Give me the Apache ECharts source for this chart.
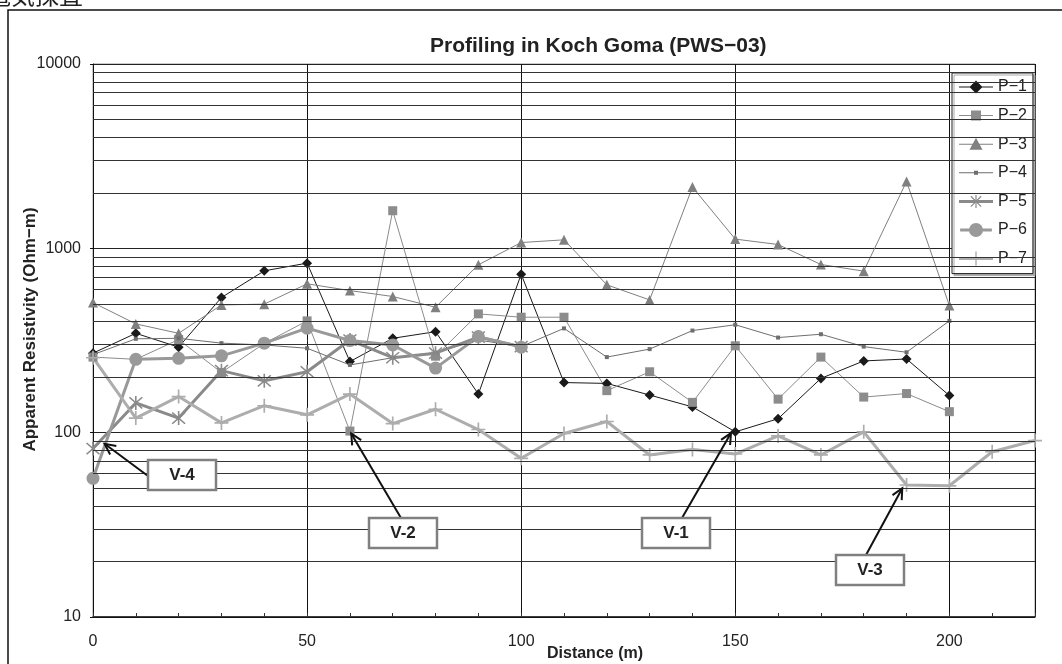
<!DOCTYPE html>
<html><head><meta charset="utf-8">
<script src="https://cdn.jsdelivr.net/npm/echarts@6/dist/echarts.min.js"></script>
<style>html,body{margin:0;padding:0;background:#fff}#c{width:1062px;height:664px}</style>
</head><body><div id="c"></div>
<script>
// ---- data ----
const distance = [0,10,20,30,40,50,60,70,80,90,100,110,120,130,140,150,160,170,180,190,200,210,220];
const seriesNames = ['P\u22121','P\u22122','P\u22123','P\u22124','P\u22125','P\u22126','P\u22127'];
const p1 = [270,346,291,541,755,831,243,325,353,162,724,187,185,160,138,101,119,197,245,251,159];
const p2 = [257,250,320,212,305,404,102,1600,260,441,423,423,169,214,146,296,152,257,156,163,130];
const p3 = [508,389,346,493,498,642,590,548,479,814,1075,1112,634,525,2149,1122,1049,817,752,2305,489];
const p4 = [265,323,325,306,299,287,233,255,272,318,293,368,257,284,358,385,328,342,293,273,404];
const p5 = [82,145,120,217,191,214,318,255,270,330,293];
const p6 = [56.5,250,253,261,306,369,316,299,224,332,291];
const p7 = [255,120,157,113,140,125,162,112,134,104,72.6,99,115,75.7,81,76.6,96,75.7,101,52,51.5,78.8,90.6];
const yTickLabels = [10,100,1000,10000];
const minorGridValues = [20,30,40,50,60,70,80,90,200,300,400,500,600,700,800,900,2000,3000,4000,5000,6000,7000,8000,9000];
const annotations = [
  {text:'V-4', tip:[2.7, 87]},
  {text:'V-2', tip:[60.3, 99]},
  {text:'V-1', tip:[149, 99.5]},
  {text:'V-3', tip:[189, 50]}
];
const titleText = 'Profiling in Koch Goma (PWS\u221203)';
const yName = 'Apparent Resistivity (Ohm\u2212m)';
const xName = 'Distance (m)';

// ---- styles ----
const FONT = "'Liberation Sans', Arial, sans-serif";
const asterisk = 'path://M-0.5,-5L0.5,-5L0.5,5L-0.5,5Z M-4.35,-3.65L-3.65,-4.35L4.35,3.65L3.65,4.35Z M3.65,-4.35L4.35,-3.65L-3.65,4.35L-4.35,3.65Z';
const plus = 'path://M-0.6,-5L0.6,-5L0.6,5L-0.6,5Z M-5,-0.6L5,-0.6L5,0.6L-5,0.6Z';
// legend icons: line + marker, with an invisible 34x14 bounding frame
const BB = 'M-17,-7L-17,-7Z M17,7L17,7Z ';
const THIN = 'M-17,-0.5L17,-0.5L17,0.5L-17,0.5Z ';
const THICK = 'M-17,-1.5L17,-1.5L17,1.5L-17,1.5Z ';
const legendIcons = [
  'path://' + BB + THIN + 'M0,-6.5L6.5,0L0,6.5L-6.5,0Z',
  'path://' + BB + THIN + 'M-5,-5L5,-5L5,5L-5,5Z',
  'path://' + BB + THIN + 'M0,-6.5L6.5,5.5L-6.5,5.5Z',
  'path://' + BB + THIN + 'M-2,-2L2,-2L2,2L-2,2Z',
  'path://' + BB + THICK + 'M-0.6,-6.5L0.6,-6.5L0.6,6.5L-0.6,6.5Z M-5.6,-4.75L-4.75,-5.6L5.6,4.75L4.75,5.6Z M4.75,-5.6L5.6,-4.75L-4.75,5.6L-5.6,4.75Z',
  'path://' + BB + THICK + 'M-7.5,0A7.5,7.5 0 1,1 7.5,0A7.5,7.5 0 1,1 -7.5,0Z',
  'path://' + BB + THICK + 'M-0.7,-7L0.7,-7L0.7,7L-0.7,7Z M-7,-0.7L7,-0.7L7,0.7L-7,0.7Z'
];
const styles = [
  {color:'#1a1a1a', width:1, symbol:'diamond', size:10},
  {color:'#8c8c8c', width:1, symbol:'rect', size:9},
  {color:'#808080', width:1, symbol:'triangle', size:10},
  {color:'#6e6e6e', width:1, symbol:'rect', size:4},
  {color:'#8a8a8a', width:3, symbol:asterisk, size:14},
  {color:'#999999', width:3, symbol:'circle', size:13},
  {color:'#adadad', width:3, symbol:plus, size:14}
];
const values = [p1,p2,p3,p4,p5,p6,p7];

const series = [{
  name:'grid', type:'line', data:[], silent:true, animation:false,
  markLine:{silent:true, symbol:['none','none'], label:{show:false}, animation:false,
    lineStyle:{color:'#333', width:1, type:'solid'},
    emphasis:{disabled:true},
    data: minorGridValues.map(v => ({yAxis:v}))}
}];
values.forEach((arr,i) => {
  const s = styles[i];
  series.push({
    name: seriesNames[i], type:'line', animation:false,
    data: arr.map((v,j) => [distance[j], v]),
    symbol: s.symbol, symbolSize: s.size, showAllSymbol:true,
    itemStyle:{color:s.color},
    lineStyle:{color:s.color, width:s.width},
    emphasis:{disabled:true}
  });
});

const chart = echarts.init(document.getElementById('c'), null, {renderer:'canvas'});
chart.setOption({
  animation:false,
  backgroundColor:'#fff',
  textStyle:{fontFamily:FONT},
  grid:{left:93, right:27, top:64, bottom:47, show:true, borderColor:'#999', borderWidth:1,
        backgroundColor:'transparent', containLabel:false, outerBoundsMode:'none'},
  legend:{
    data: seriesNames.map((n,i) => ({name:n, icon:legendIcons[i]})),
    orient:'vertical', left:952, top:73,
    itemWidth:34, itemHeight:14, itemGap:12.6, padding:[6,6,7,7],
    backgroundColor:'#fff', borderColor:'#222', borderWidth:1,
    shadowColor:'#aaa', shadowOffsetX:2, shadowOffsetY:2, shadowBlur:0,
    textStyle:{fontFamily:FONT, fontSize:16, color:'#222'},
    selectedMode:false
  },
  xAxis:[{
    type:'value', min:0, max:220, interval:50,
    axisLine:{show:true, lineStyle:{color:'#111', width:1.5}},
    axisTick:{show:false},
    axisLabel:{fontFamily:FONT, fontSize:16, color:'#222', margin:17,
      formatter: v => (v % 50 === 0 ? String(v) : '')},
    splitLine:{show:true, lineStyle:{color:'#111', width:1}},
    name: xName, nameLocation:'middle', nameGap:29, nameMoveOverlap:false,
    nameTextStyle:{fontFamily:FONT, fontWeight:'bold', fontSize:16, color:'#222', padding:[0,0,0,62]}
  },{
    type:'value', min:0, max:220, interval:10, position:'bottom',
    axisLine:{show:false}, axisLabel:{show:false}, splitLine:{show:false},
    axisTick:{show:true, inside:true, length:4, lineStyle:{color:'#333'}}
  }],
  yAxis:{
    type:'log', logBase:10, min:10, max:10000,
    axisLine:{show:true, lineStyle:{color:'#111', width:1}},
    axisTick:{show:true, length:3, lineStyle:{color:'#111'}},
    axisLabel:{fontFamily:FONT, fontSize:16, color:'#222', margin:12,
      formatter: v => (yTickLabels.indexOf(Math.round(v)) >= 0 ? String(Math.round(v)) : '')},
    splitLine:{show:true, lineStyle:{color:'#222', width:1}},
    name: yName, nameLocation:'middle', nameGap:54, nameRotate:90, nameMoveOverlap:false,
    nameTextStyle:{fontFamily:FONT, fontWeight:'bold', fontSize:17, color:'#222', padding:[0,0,0,22]}
  },
  title:{text:titleText, left:425, top:31, textStyle:{fontFamily:FONT, fontWeight:'bold', fontSize:21, color:'#222'}},
  series: series
});

// annotations (arrows and boxes), arrow tips located via the chart's scales
const boxes = {
  'V-4': {x:148, y:460, tail:[148,476]},
  'V-2': {x:369, y:518, tail:[401,518]},
  'V-1': {x:642, y:518, tail:[682,518]},
  'V-3': {x:836, y:555, tail:[866,555]}
};
const g = [
  {type:'rect', shape:{x:8, y:10, width:1100, height:700}, style:{fill:'none', stroke:'#111', lineWidth:1.5}, z:0, silent:true},
  {type:'text', x:-13, y:-17, style:{text:'\u96fb\u6c17\u63a2\u67fb', font:"24px 'Noto Sans CJK JP'", fill:'#222'}, silent:true}
];
annotations.forEach(a => {
  const b = boxes[a.text];
  const tip = chart.convertToPixel({seriesIndex:1}, a.tip);
  const tail = b.tail;
  const dx = tip[0]-tail[0], dy = tip[1]-tail[1];
  const ang = Math.atan2(dy, dx);
  const L = 12, spread = 0.45;
  const h1 = [tip[0]-L*Math.cos(ang-spread), tip[1]-L*Math.sin(ang-spread)];
  const h2 = [tip[0]-L*Math.cos(ang+spread), tip[1]-L*Math.sin(ang+spread)];
  g.push({type:'line', shape:{x1:tail[0], y1:tail[1], x2:tip[0], y2:tip[1]}, style:{stroke:'#111', lineWidth:2}, z:10, silent:true});
  g.push({type:'polyline', shape:{points:[h1, tip, h2]}, style:{stroke:'#111', lineWidth:2, fill:'none'}, z:10, silent:true});
  g.push({type:'rect', shape:{x:b.x, y:b.y, width:68, height:30}, style:{fill:'#fff', stroke:'#808080', lineWidth:2.5}, z:11, silent:true});
  g.push({type:'text', x:b.x+34, y:b.y+15, style:{text:a.text, font:"bold 17px 'Liberation Sans', Arial, sans-serif", fill:'#222', align:'center', verticalAlign:'middle'}, z:12, silent:true});
});
chart.setOption({graphic:g});
</script>
</body></html>
